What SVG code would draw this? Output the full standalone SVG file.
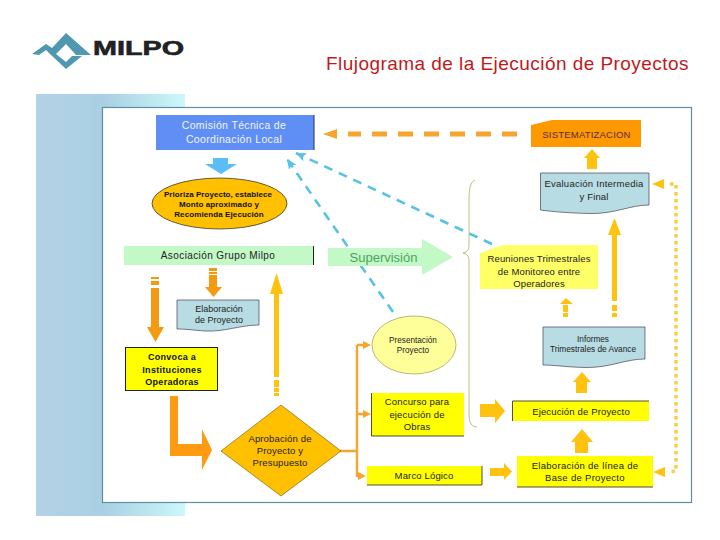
<svg xmlns="http://www.w3.org/2000/svg" width="720" height="540" viewBox="0 0 720 540">
<defs>
<linearGradient id="band" x1="0" x2="1" y1="0" y2="0"><stop offset="0" stop-color="#b4d2e6"/><stop offset="0.45" stop-color="#a9cfe3"/><stop offset="1" stop-color="#ccf8fa"/></linearGradient>
<marker id="hb" markerUnits="userSpaceOnUse" markerWidth="14" markerHeight="14" refX="10" refY="6" orient="auto"><path d="M0 1.500L10 6L0 10.500L2 6Z" fill="#55c3e6"/></marker>
</defs>
<style>
text{font-family:"Liberation Sans",Arial,sans-serif;font-size:9.5px;fill:#222;text-anchor:middle;letter-spacing:.15px}
.b{font-weight:bold;font-size:8px;fill:#111;letter-spacing:.1px}
.conv{font-weight:bold;font-size:9px;fill:#111;letter-spacing:.3px}
.w{fill:#f0f5ff;font-size:10.500px;letter-spacing:.35px}
.s{font-size:8.200px;letter-spacing:0}
.doc{fill:#b8dce4;stroke:#445;stroke-width:.7}
.y{fill:#ffff00}
.ln{fill:none;stroke:#222;stroke-width:.8}
.o{fill:#f49a10}
.g{fill:#ffc20e}
.oline{fill:none;stroke:#f6a52e;stroke-width:2.400}
.oa{fill:#f6a52e}
.blue{fill:none;stroke:#55c3e6;stroke-width:2.600;stroke-dasharray:9 7}
</style>
<rect x="36" y="94" width="149" height="422" fill="url(#band)"/>
<rect x="102.500" y="107.500" width="589" height="395" fill="#fff" stroke="#5f8ea3" stroke-width="1.200"/>
<g id="logo">
<path fill-rule="evenodd" d="M32 54L46 44L52 48L66 33L91 55L76 55L66 44L56 54L66 62L72 56L82 56L66 69L50 54L46 50L39 55Z" fill="#4f98b0"/>
<text x="93" y="55" textLength="91" lengthAdjust="spacingAndGlyphs" style="font-size:20px;font-weight:bold;fill:#222;text-anchor:start;stroke:#222;stroke-width:.6;letter-spacing:0">MILPO</text>
</g>
<text id="title" x="507.500" y="70" style="font-size:19px;fill:#c01a20;letter-spacing:.45px">Flujograma de la Ejecución de Proyectos</text>

<g id="connectors">
<path d="M517 134H348" fill="none" stroke="#f6a52e" stroke-width="5" stroke-dasharray="15 11"/>
<path d="M323 134L337 129V139Z" class="oa"/>
<path d="M492 244L296 153" class="blue" marker-end="url(#hb)"/>
<path d="M393 312L287 159" class="blue" marker-end="url(#hb)"/>
<path d="M213 158H228V164H237L221 174L205 164H213Z" fill="#5cbcf5"/>
<path d="M151 277h8v2h-8zM151 281h8v4h-8zM151 288h8v39h5l-8.500 15-8.500-15h4Z" class="o"/>
<path d="M209 268h8v3h-8zM209 272h8v2h-8zM209 275h8v12h5l-8.500 10-8.500-10h4Z" class="o"/>
<path d="M274 380h5v7h-5zM274 388h5v4h-5zM274 393h5v3h-5zM274 377V294h-4L276.500 273L283 294H279V377Z" class="g"/>
<path d="M170 396H178V444H202V429L212 450L202 470V456H170Z" fill="#ff9b10"/>
<path d="M340 451H357M357 345V477M357 345H365M357 414H365M357 476H360" class="oline"/>
<path d="M371 345L363 341V349ZM371 414L363 410V418ZM366 476L358 472V480Z" class="oa"/>
<path d="M480 404H495V399L505 411L495 423V417H480Z" class="g"/>
<path d="M490 468H504V463L512 471.500L504 480V476H490Z" class="g"/>
<path d="M575 453V442H571L582 429L593 442H588V453Z" class="g"/>
<path d="M576 393V382H573L582 372L591 382H587V393Z" class="g"/>
<path d="M563 305H568V312H563ZM563 313H568V317H563Z" class="g"/>
<path d="M560 304L566 298L573 304Z" class="g"/>
<path d="M612 301V235H608L614.500 218L621 235H617V301ZM612 305H617V311H612ZM612 313H617V317H612Z" class="g"/>
<path d="M587 169V158H584L592 149L600 158H597V169Z" class="g"/>
<path d="M670 184H676V471L668 472" fill="none" stroke="#f5d040" stroke-width="3.500" stroke-dasharray="3.500 3.500"/>
<path d="M652 184L664 179V189Z" class="g"/>
<path d="M653 472L665 467V477Z" class="g"/>
<path d="M475 180C470 182 469 190 469 200V246C469 250 467 252 463 253C467 254 469 256 469 260V415C469 423 472 427 477 427" fill="none" stroke="#b8b870" stroke-width=".9"/>
<path d="M328 248H422V239L453 257L422 275V266H328Z" fill="#c3f8c7"/>
</g>

<g id="n1"><rect x="156" y="115" width="158" height="35" fill="#5f8ff5"/><path d="M314 115V150" stroke="#203060" stroke-width="1"/><text class="w" x="234" y="129">Comisión Técnica de</text><text class="w" x="234" y="143">Coordinación Local</text></g>
<g id="n2"><ellipse cx="219.500" cy="203.500" rx="67.500" ry="25.500" fill="#ffc000" stroke="#222" stroke-width=".7"/><text class="b" x="218" y="196.500" textLength="108">Prioriza Proyecto, establece</text><text class="b" x="219" y="206.500">Monto aproximado y</text><text class="b" x="219" y="217">Recomienda Ejecución</text></g>
<g id="n3"><rect x="124" y="246" width="190" height="19" fill="#c3f8c7"/><path d="M313.500 246V265" stroke="#222"/><text x="218" y="259" style="font-size:10px;letter-spacing:.4px">Asociación Grupo Milpo</text></g>
<g id="n4"><text x="383.500" y="262" style="font-size:13px;fill:#4fa35e;letter-spacing:0">Supervisión</text></g>
<g id="n5"><path d="M177 300H259V325C240 325 225 332 205 331C192 330 185 329 177 329Z" class="doc"/><text x="219" y="312" class="s" style="font-size:9px">Elaboración</text><text x="219" y="323" class="s" style="font-size:9px">de Proyecto</text></g>
<g id="n6"><rect x="125.500" y="347.500" width="92" height="43" class="y" stroke="#222"/><text class="conv" x="172" y="360">Convoca a</text><text class="conv" x="172" y="372.500">Instituciones</text><text class="conv" x="172" y="384.500">Operadoras</text></g>
<g id="n7"><path d="M281 405L341 451L281 496L221 451Z" fill="#ffc000" stroke="#7a6a10" stroke-width=".7"/><text x="280" y="442">Aprobación de</text><text x="280" y="454">Proyecto y</text><text x="280" y="466">Presupuesto</text></g>
<g id="n8"><ellipse cx="414" cy="345" rx="42" ry="29" fill="#ffff99" stroke="#9a9a5a" stroke-width=".7"/><text x="413" y="343" class="s">Presentación</text><text x="413" y="353" class="s">Proyecto</text></g>
<g id="n9"><rect x="371.500" y="393" width="92.500" height="43" class="y"/><path d="M371.500 393V436H464" class="ln"/><text x="417" y="405">Concurso para</text><text x="417" y="418">ejecución de</text><text x="417" y="430">Obras</text></g>
<g id="n10"><rect x="367" y="466" width="115" height="19" class="y"/><path d="M367 485H482V466" class="ln"/><text x="424" y="479">Marco Lógico</text></g>
<g id="n11"><rect x="512.500" y="401" width="136.500" height="20" class="y"/><path d="M512.500 421V401H649" class="ln"/><text x="581" y="415">Ejecución de Proyecto</text></g>
<g id="n12"><rect x="517" y="456" width="136" height="31" class="y"/><path d="M517 487H653" class="ln"/><text x="585" y="469" style="letter-spacing:.3px">Elaboración de línea de</text><text x="585" y="481" style="letter-spacing:.3px">Base de Proyecto</text></g>
<g id="n13"><path d="M480 253L503 245H598V289H480Z" fill="#ffff66"/><text x="539" y="262">Reuniones Trimestrales</text><text x="539" y="275">de Monitoreo entre</text><text x="539" y="287">Operadores</text></g>
<g id="n14"><path d="M543 327H645V359C625 359 610 368 585 367.500C565 367 555 365 543 365Z" class="doc"/><text x="593" y="342" class="s">Informes</text><text x="593" y="352" class="s" style="font-size:8.300px">Trimestrales de Avance</text></g>
<g id="n15"><path d="M540.500 173H649V205C630 205 615 214 590 213.500C570 213 555 212 540.500 210Z" class="doc"/><text x="594" y="187" style="letter-spacing:.25px">Evaluación Intermedia</text><text x="594" y="200">y Final</text></g>
<g id="n16"><path d="M531 125L552 120H641V147H531Z" fill="#ff9900"/><text x="586.500" y="138" style="font-size:9.500px;fill:#5a2a40;letter-spacing:.2px">SISTEMATIZACION</text></g>
</svg>
